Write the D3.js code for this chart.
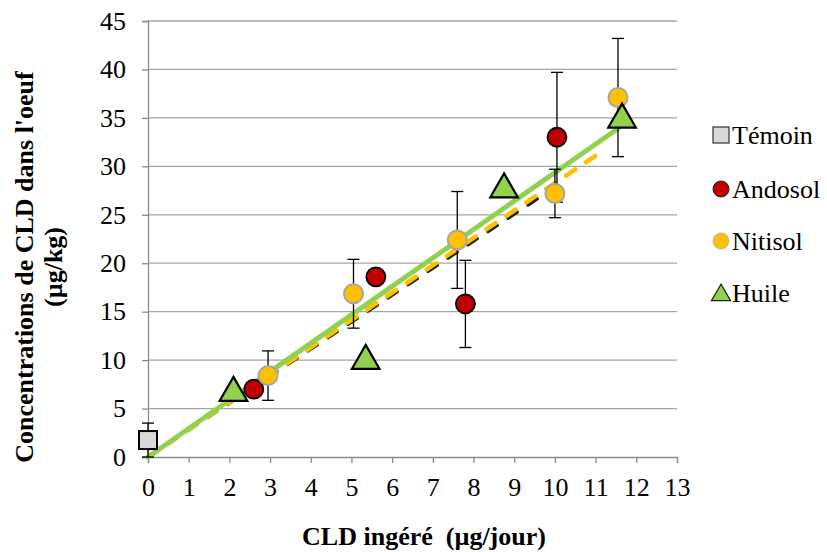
<!DOCTYPE html>
<html><head><meta charset="utf-8">
<script src="https://cdn.jsdelivr.net/npm/d3@7"></script>
<style>body{margin:0;background:#fff}svg{display:block}</style>
</head><body><svg id="c" width="827" height="552"></svg>
<script>
const xTicks = d3.range(0, 14);
const yTicks = d3.range(0, 50, 5);
const temoinX = [0], temoinY = [1.75], temoinErr = [1.75];
const andosolX = [2.6, 5.6, 7.8, 10.05], andosolY = [7.0, 18.6, 15.8, 33.0], andosolErr = [0, 0, 4.5, 6.7];
const nitisolX = [2.95, 5.05, 7.6, 10.0, 11.55], nitisolY = [8.4, 16.85, 22.4, 27.2, 37.1], nitisolErr = [2.55, 3.55, 5.0, 2.5, 6.1];
const huileX = [2.1, 5.35, 8.75, 11.65], huileY = [6.8, 10.1, 27.8, 35.0];
const trendGreenX = [0, 11.55], trendGreenY = [0, 33.9];
const trendYellowX = [0, 11.25], trendYellowY = [0, 31.8];
const trendBlackX = [0, 9.8], trendBlackY = [0, 27.3];
const legendLabels = ["Témoin", "Andosol", "Nitisol", "Huile"];

const FONT = "'Liberation Serif'";
const FS = "26px";
const svg = d3.select("#c");
const x = d3.scaleLinear().domain([0, 13]).range([148, 677]);
const y = d3.scaleLinear().domain([0, 45]).range([457, 21]);

// gridlines
svg.append("g").selectAll("line").data(yTicks.filter(d => d > 0)).join("line")
  .attr("x1", x(0)).attr("x2", x(13)).attr("y1", d => y(d)).attr("y2", d => y(d))
  .attr("stroke", "#a6a6a6").attr("stroke-width", 1.3);

// axes
const yAxis = svg.append("g").attr("transform", `translate(${x(0)},0)`)
  .call(d3.axisLeft(y).tickValues(yTicks).tickSize(6).tickPadding(16));
const xAxis = svg.append("g").attr("transform", `translate(0,${y(0)})`)
  .call(d3.axisBottom(x).tickValues(xTicks).tickSize(6).tickPadding(15));
[yAxis, xAxis].forEach(a => {
  a.attr("font-family", null).attr("font-size", null);
  a.select(".domain").attr("stroke", "#8c8c8c").attr("stroke-width", 1.3);
  a.selectAll(".tick line").attr("stroke", "#8c8c8c").attr("stroke-width", 1.3);
  a.selectAll(".tick text").attr("fill", "#000").style("font-family", FONT).style("font-size", FS);
});

// trendlines
function trend(xs, ys, color, w, dash) {
  svg.append("line").attr("x1", x(xs[0])).attr("y1", y(ys[0])).attr("x2", x(xs[1])).attr("y2", y(ys[1]))
    .attr("stroke", color).attr("stroke-width", w).attr("stroke-dasharray", dash).attr("stroke-linecap", "round");
}
trend(trendBlackX, trendBlackY, "#222", 3.5, "11,13");
trend(trendYellowX, trendYellowY, "#ffc000", 4.5, "11,13");
trend(trendGreenX, trendGreenY, "#92d050", 5, null);

// error bars
function errBars(xs, ys, es) {
  xs.forEach((xv, i) => {
    if (!es[i]) return;
    const g = svg.append("g").attr("stroke", "#000").attr("stroke-width", 1.3);
    const cx = x(xv), t = y(ys[i] + es[i]), b = y(Math.max(0, ys[i] - es[i]));
    g.append("line").attr("x1", cx).attr("x2", cx).attr("y1", t).attr("y2", b);
    g.append("line").attr("x1", cx - 6).attr("x2", cx + 6).attr("y1", t).attr("y2", t);
    g.append("line").attr("x1", cx - 6).attr("x2", cx + 6).attr("y1", b).attr("y2", b);
  });
}
errBars(temoinX, temoinY, temoinErr);
errBars(andosolX, andosolY, andosolErr);
errBars(nitisolX, nitisolY, nitisolErr);

// markers
const tri = s => `M0,${-s * 0.62}L${s * 0.6},${s * 0.42}L${-s * 0.6},${s * 0.42}Z`;
svg.append("g").selectAll("rect").data(temoinX).join("rect")
  .attr("x", (d) => x(d) - 9).attr("y", (d, i) => y(temoinY[i]) - 9).attr("width", 18).attr("height", 18)
  .attr("fill", "#d9d9d9").attr("stroke", "#000").attr("stroke-width", 2);
svg.append("g").selectAll("circle").data(andosolX).join("circle")
  .attr("cx", d => x(d)).attr("cy", (d, i) => y(andosolY[i])).attr("r", 9.5)
  .attr("fill", "#c00000").attr("stroke", "#000").attr("stroke-width", 1.8);
svg.append("g").selectAll("circle").data(nitisolX).join("circle")
  .attr("cx", d => x(d)).attr("cy", (d, i) => y(nitisolY[i])).attr("r", 9.5)
  .attr("fill", "#ffc000").attr("stroke", "#a6a6a6").attr("stroke-width", 2);
svg.append("g").selectAll("path").data(huileX).join("path")
  .attr("transform", (d, i) => `translate(${x(d)},${y(huileY[i])})`).attr("d", tri(23))
  .attr("fill", "#92d050").attr("stroke", "#000").attr("stroke-width", 2.2).attr("stroke-linejoin", "miter");

// legend
const ly = [135, 189, 241, 293];
const lg = svg.append("g");
lg.append("rect").attr("x", 713).attr("y", ly[0] - 8).attr("width", 16).attr("height", 16)
  .attr("fill", "#d9d9d9").attr("stroke", "#333").attr("stroke-width", 1.2);
lg.append("circle").attr("cx", 721).attr("cy", ly[1]).attr("r", 8).attr("fill", "#c00000").attr("stroke", "#222").attr("stroke-width", 1);
lg.append("circle").attr("cx", 721).attr("cy", ly[2]).attr("r", 8).attr("fill", "#ffc000").attr("stroke", "#bbb").attr("stroke-width", 1);
lg.append("path").attr("transform", `translate(721,${ly[3] + 1})`).attr("d", tri(16))
  .attr("fill", "#92d050").attr("stroke", "#222").attr("stroke-width", 1.2);
lg.selectAll("text").data(legendLabels).join("text")
  .attr("x", 732).attr("y", (d, i) => ly[i] + 8.5).style("font-family", FONT).style("font-size", FS).text(d => d);

// axis titles
svg.append("text").attr("x", 424).attr("y", 545).attr("text-anchor", "middle")
  .style("font-family", FONT).style("font-size", FS).style("font-weight", "bold").text("CLD ingéré\u00a0\u00a0(µg/jour)");
const yt = svg.append("g").attr("transform", "translate(0,267) rotate(-90)");
yt.append("text").attr("x", 0).attr("y", 33).attr("text-anchor", "middle")
  .style("font-family", FONT).style("font-size", FS).style("font-weight", "bold").text("Concentrations de CLD dans l'oeuf");
yt.append("text").attr("x", 0).attr("y", 62).attr("text-anchor", "middle")
  .style("font-family", FONT).style("font-size", FS).style("font-weight", "bold").text("(µg/kg)");
</script></body></html>
